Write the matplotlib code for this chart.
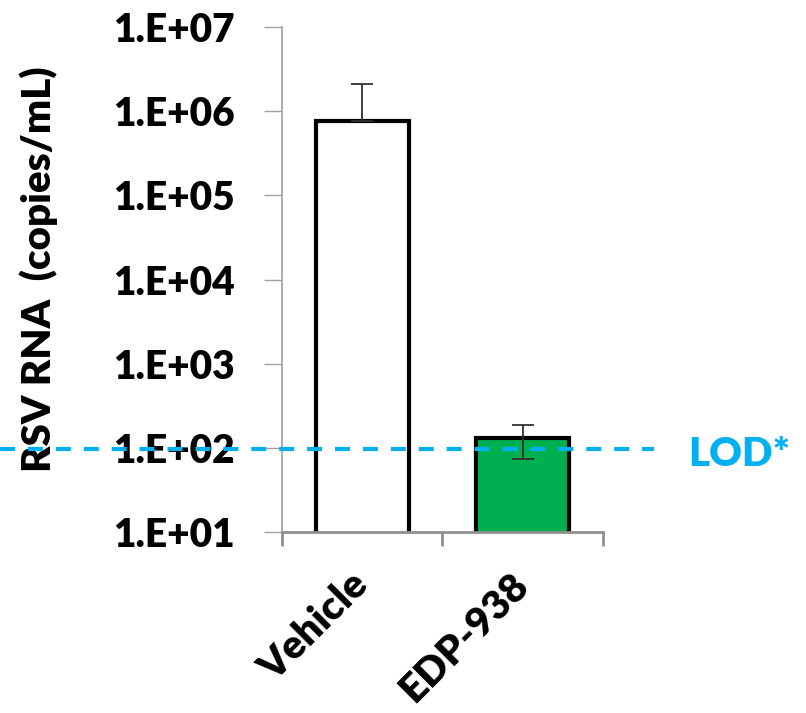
import matplotlib.pyplot as plt

groups = ['Vehicle', 'EDP-938']
rna = [7.6e5, 131]
err_low = [0, 58]
err_high = [1.35e6, 55]
fill = ['white', '#00B050']
lod = 97

plt.rcParams['font.family'] = ['Lato', 'DejaVu Sans']
plt.rcParams['font.weight'] = 'heavy'
plt.rcParams['axes.labelweight'] = 'heavy'

fig = plt.figure(figsize=(8.06, 7.13), dpi=100)
ax = fig.add_axes([0.35, 0.2539, 0.398, 0.708])

x = range(len(groups))
ax.bar(x, rna, width=0.58, color=fill, edgecolor='black', linewidth=3, zorder=2)
ax.errorbar(x, rna, yerr=[err_low, err_high], fmt='none', ecolor='#303030',
            elinewidth=1.3, capsize=8, capthick=1.3, zorder=3)

ax.set_yscale('log')
ax.set_ylim(10, 1e7)
ax.set_xlim(-0.5, 1.5)
ax.set_yticks([1e1, 1e2, 1e3, 1e4, 1e5, 1e6, 1e7])
ax.set_yticklabels(['1.E+01', '1.E+02', '1.E+03', '1.E+04', '1.E+05', '1.E+06', '1.E+07'])
ax.minorticks_off()
ax.tick_params(axis='y', length=13, width=1, color='#A0A0A0', labelsize=28, pad=21)

ax.set_xticks([-0.5, 0.5, 1.5])
ax.set_xticklabels([])
ax.set_xticks([0, 1], minor=True)
ax.set_xticklabels(groups, minor=True, rotation=45, ha='right', va='center',
                   rotation_mode='anchor', fontsize=29)
ax.tick_params(axis='x', which='major', length=10, width=2, color='#909090')
ax.tick_params(axis='x', which='minor', length=0, pad=34)

for s in ['top', 'right']:
    ax.spines[s].set_visible(False)
ax.spines['left'].set_color('#A0A0A0')
ax.spines['left'].set_linewidth(1.2)
ax.spines['bottom'].set_color('#909090')
ax.spines['bottom'].set_linewidth(2)

ax.set_ylabel('RSV RNA  (copies/mL)', fontsize=29)
ax.yaxis.set_label_coords(-0.7, 0.52)

# LOD line goes past the axes on both sides
ax.axhline(lod, xmin=-0.88, xmax=1.16, color='#00B0F0', linestyle=(0, (3.6, 3.1)),
           linewidth=3, clip_on=False, zorder=4)
fig.text(688 / 806, 1 - 455 / 713, 'LOD*', color='#00B0F0', fontsize=29,
         fontweight='heavy', va='center', ha='left')

fig.savefig('out.png', dpi=100)
